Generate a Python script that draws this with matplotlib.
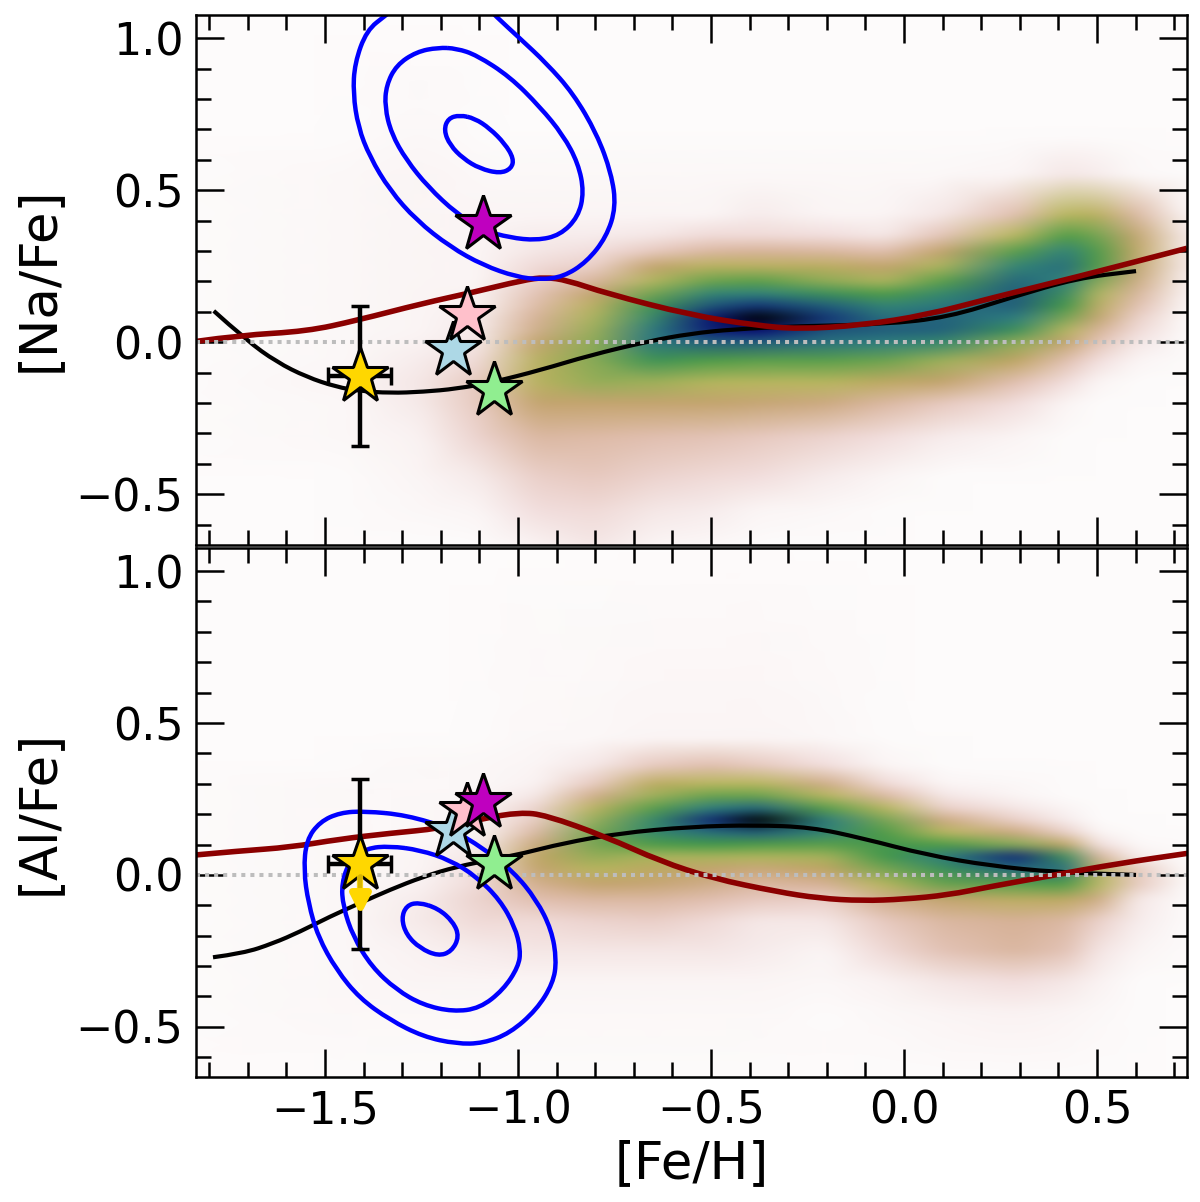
"""Two-panel [Na/Fe] and [Al/Fe] vs [Fe/H] density maps with contours, tracks and stars."""
import numpy as np
import matplotlib
matplotlib.use("Agg")
import matplotlib.pyplot as plt
from matplotlib.markers import MarkerStyle
from matplotlib.patches import PathPatch
from matplotlib.path import Path
from matplotlib.ticker import MultipleLocator

XLIM = (-1.834, 0.733)
YLIM = (-0.665, 1.076)

# density maps on a coarse grid (one list per column, y ascending)
grid_feh = [-1.835, -1.45, -1.25, -1.1, -0.95, -0.8, -0.65, -0.5, -0.38, -0.2, -0.05, 0.1, 0.29, 0.42, 0.5, 0.6, 0.733]
grid_na = [-0.665, -0.55, -0.44, -0.31, -0.2, -0.13, -0.06, 0, 0.04, 0.08, 0.12, 0.16, 0.2, 0.25, 0.3, 0.35, 0.42, 0.55, 0.68, 1.076]
grid_al = [-0.665, -0.45, -0.35, -0.25, -0.15, -0.08, -0.03, 0.02, 0.06, 0.1, 0.14, 0.18, 0.22, 0.26, 0.3, 0.36, 0.45, 1.076]

density_na = [
    [0, 0, 0, 0, 0, 0, 0, 0, 0, 0, 0, 0, 0, 0, 0, 0, 0, 0, 0, 0],
    [0, 0, .003, .005, .006, .008, .006, .005, .004, .004, .004, .004, .004, .004, .004, .004, .004, .004, .002, 0],
    [0, .004, .008, .012, .025, .03, .02, .012, .01, .01, .008, .008, .008, .008, .008, .008, .008, .008, .004, 0],
    [0, .01, .025, .06, .08, .08, .05, .03, .025, .02, .015, .012, .01, .008, .008, .008, .008, .004, .002, 0],
    [.015, .04, .07, .12, .2, .28, .27, .2, .16, .14, .11, .09, .07, .05, .03, .02, .01, .004, 0, 0],
    [.03, .05, .08, .11, .2, .38, .42, .4, .37, .33, .27, .2, .13, .07, .04, .02, .01, .004, 0, 0],
    [.01, .03, .06, .1, .2, .36, .58, .74, .73, .66, .58, .46, .32, .2, .08, .03, .01, .004, 0, 0],
    [.005, .02, .05, .09, .2, .31, .52, .8, .92, .93, .82, .68, .48, .28, .12, .05, .01, .004, 0, 0],
    [0, .01, .04, .08, .19, .3, .5, .8, .95, 1.0, .88, .7, .5, .27, .13, .05, .02, .004, 0, 0],
    [0, .005, .02, .06, .17, .3, .5, .75, .82, .88, .8, .6, .4, .26, .12, .04, .01, .004, 0, 0],
    [0, 0, .01, .04, .12, .24, .47, .72, .8, .76, .68, .52, .33, .2, .1, .03, .01, .004, 0, 0],
    [0, 0, 0, .02, .08, .2, .36, .66, .79, .79, .74, .66, .5, .33, .2, .09, .03, .004, 0, 0],
    [0, 0, 0, .01, .04, .1, .22, .4, .6, .72, .8, .8, .78, .68, .5, .3, .1, .01, 0, 0],
    [0, 0, 0, 0, .01, .04, .1, .2, .3, .44, .54, .62, .7, .76, .7, .52, .3, .03, 0, 0],
    [0, 0, 0, 0, 0, .01, .04, .09, .14, .2, .25, .32, .42, .53, .52, .46, .27, .02, 0, 0],
    [0, 0, 0, 0, 0, 0, .01, .03, .05, .07, .1, .13, .17, .2, .22, .2, .12, .005, 0, 0],
    [0, 0, 0, 0, 0, 0, 0, 0, 0, 0, .005, .01, .015, .02, .02, .02, .01, 0, 0, 0],
]
density_al = [
    [0, 0, 0, 0, 0, 0, 0, 0, 0, 0, 0, 0, 0, 0, 0, 0, 0, 0],
    [0, .004, .006, .006, .005, .005, .005, .005, .005, .005, .005, .005, .005, .004, .004, .003, .003, 0],
    [0, .005, .008, .012, .025, .02, .015, .01, .008, .006, .005, .005, .005, .005, .005, .004, .003, 0],
    [0, .005, .01, .02, .05, .06, .05, .04, .03, .02, .01, .01, .008, .005, .005, .004, .003, 0],
    [0, .005, .01, .03, .05, .1, .15, .2, .22, .18, .12, .08, .06, .03, .015, .01, .005, 0],
    [0, .005, .01, .03, .06, .12, .2, .3, .38, .45, .45, .38, .28, .16, .08, .03, .005, 0],
    [0, .005, .01, .03, .07, .12, .19, .24, .33, .52, .66, .65, .5, .36, .25, .08, .01, 0],
    [0, .005, .01, .03, .05, .1, .16, .2, .33, .54, .76, .9, .72, .48, .3, .1, .01, 0],
    [0, .005, .01, .02, .03, .08, .12, .18, .32, .52, .8, 1.0, .78, .48, .3, .08, .01, 0],
    [0, .003, .005, .01, .03, .07, .14, .22, .34, .5, .68, .72, .5, .3, .16, .04, .005, 0],
    [0, .005, .015, .05, .08, .16, .3, .45, .55, .56, .52, .45, .3, .12, .05, .01, .003, 0],
    [0, .01, .03, .09, .12, .2, .48, .6, .72, .52, .3, .17, .07, .03, .01, .003, 0, 0],
    [0, .015, .04, .12, .14, .26, .5, .78, .9, .42, .17, .07, .03, .01, .005, 0, 0, 0],
    [0, .008, .03, .09, .12, .24, .52, .75, .6, .22, .07, .02, .01, 0, 0, 0, 0, 0],
    [0, .005, .015, .035, .07, .17, .3, .28, .14, .04, .01, 0, 0, 0, 0, 0, 0, 0],
    [0, 0, 0, .01, .02, .03, .08, .08, .02, .005, 0, 0, 0, 0, 0, 0, 0, 0],
    [0, 0, 0, 0, 0, 0, 0, 0, 0, 0, 0, 0, 0, 0, 0, 0, 0, 0],
]

# black and dark red tracks
black_na_x = [-1.788, -1.703, -1.625, -1.548, -1.470, -1.410, -1.332, -1.246, -1.159, -1.064, -0.943, -0.814, -0.663, -0.555, -0.44, -0.275, -0.052, 0.114, 0.28, 0.446, 0.601]
black_na_y = [0.103, 0.006, -0.065, -0.114, -0.147, -0.160, -0.167, -0.163, -0.153, -0.131, -0.092, -0.043, 0.003, 0.028, 0.043, 0.053, 0.059, 0.082, 0.148, 0.21, 0.234]
red_na_x = [-1.832, -1.72, -1.547, -1.417, -1.246, -1.117, -0.987, -0.93, -0.873, -0.772, -0.552, -0.386, -0.275, -0.109, 0.057, 0.225, 0.446, 0.733]
red_na_y = [0.003, 0.023, 0.036, 0.072, 0.128, 0.164, 0.204, 0.214, 0.204, 0.161, 0.089, 0.056, 0.043, 0.056, 0.089, 0.145, 0.214, 0.309]
black_al_x = [-1.790, -1.712, -1.634, -1.565, -1.487, -1.410, -1.332, -1.246, -1.159, -1.073, -0.986, -0.884, -0.740, -0.551, -0.385, -0.241, -0.108, 0.058, 0.225, 0.391, 0.601]
black_al_y = [-0.271, -0.258, -0.225, -0.187, -0.137, -0.093, -0.049, -0.006, 0.027, 0.049, 0.071, 0.104, 0.137, 0.159, 0.164, 0.157, 0.121, 0.066, 0.030, 0.009, 0.0]
red_al_x = [-1.833, -1.72, -1.591, -1.461, -1.332, -1.202, -1.09, -0.995, -0.928, -0.773, -0.629, -0.496, -0.330, -0.219, -0.108, 0.0, 0.114, 0.225, 0.391, 0.557, 0.734]
red_al_y = [0.066, 0.079, 0.091, 0.118, 0.137, 0.153, 0.186, 0.206, 0.197, 0.126, 0.044, -0.011, -0.055, -0.077, -0.085, -0.08, -0.066, -0.038, 0.0, 0.038, 0.071]

# blue contours, outer to inner
blue_na = [
    ([-1.341, -1.392, -1.423, -1.427, -1.414, -1.384, -1.332, -1.263, -1.176, -1.090, -1.004, -0.943, -0.883, -0.822, -0.771, -0.746, -0.758, -0.796, -0.857, -0.926, -0.995, -1.056, -1.107, -1.176, -1.263],
     [1.076, 1.026, 0.917, 0.818, 0.708, 0.610, 0.500, 0.401, 0.314, 0.253, 0.215, 0.206, 0.215, 0.264, 0.346, 0.445, 0.555, 0.686, 0.818, 0.917, 0.999, 1.070, 1.136, 1.191, 1.158]),
    ([-1.207, -1.263, -1.315, -1.341, -1.345, -1.328, -1.289, -1.233, -1.159, -1.090, -1.021, -0.952, -0.891, -0.844, -0.829, -0.844, -0.883, -0.943, -1.021, -1.107, -1.159],
     [0.969, 0.955, 0.911, 0.845, 0.774, 0.686, 0.599, 0.511, 0.423, 0.368, 0.344, 0.335, 0.352, 0.412, 0.494, 0.588, 0.681, 0.774, 0.873, 0.944, 0.966]),
    ([-1.151, -1.181, -1.192, -1.176, -1.142, -1.099, -1.047, -1.017, -1.011, -1.034, -1.073, -1.112],
     [0.747, 0.736, 0.697, 0.648, 0.604, 0.571, 0.555, 0.571, 0.604, 0.653, 0.703, 0.736]),
]
blue_al = [
    ([-1.397, -1.461, -1.513, -1.548, -1.555, -1.543, -1.518, -1.470, -1.410, -1.332, -1.246, -1.159, -1.090, -1.021, -0.952, -0.909, -0.900, -0.913, -0.952, -1.012, -1.090, -1.176, -1.289],
     [0.210, 0.205, 0.175, 0.115, 0.016, -0.093, -0.203, -0.313, -0.406, -0.477, -0.532, -0.556, -0.554, -0.521, -0.444, -0.356, -0.280, -0.181, -0.082, 0.011, 0.088, 0.153, 0.197]),
    ([-1.332, -1.392, -1.435, -1.457, -1.453, -1.427, -1.379, -1.315, -1.246, -1.168, -1.099, -1.038, -0.999, -0.993, -1.008, -1.047, -1.107, -1.176, -1.254],
     [0.095, 0.088, 0.049, -0.027, -0.104, -0.203, -0.302, -0.378, -0.428, -0.450, -0.439, -0.378, -0.302, -0.247, -0.170, -0.082, -0.006, 0.049, 0.082]),
    ([-1.258, -1.289, -1.302, -1.289, -1.254, -1.207, -1.172, -1.152, -1.168, -1.207],
     [-0.090, -0.101, -0.143, -0.197, -0.241, -0.267, -0.252, -0.203, -0.154, -0.110]),
]

# stars, drawn in this order
star_colors = ["lightblue", "pink", "#bf00bf", "lightgreen", "gold"]
star_feh = [-1.168, -1.133, -1.09, -1.062, -1.41]
star_na = [-0.025, 0.089, 0.390, -0.157, -0.112]
star_al = [0.146, 0.212, 0.239, 0.036, 0.036]

# error bars of the gold star
err_feh = 0.081
err_na = 0.23
err_al = 0.28
al_limit = -0.08


def soften(img, dpi):
    # soft edge for the density mesh, wider along x than along y
    out = img.copy()
    for axis, sigma in ((1, 10.0), (0, 3.0)):
        r = np.arange(-int(3 * sigma), int(3 * sigma) + 1)
        kernel = np.exp(-0.5 * (r / sigma) ** 2)
        kernel /= kernel.sum()
        pad = [(len(r) // 2, len(r) // 2) if i == axis else (0, 0) for i in range(3)]
        padded = np.pad(out, pad, mode="edge")
        out = np.apply_along_axis(lambda v: np.convolve(v, kernel, mode="valid"), axis, padded)
    return out, 0, 0


def smooth_curve(ax, xs, ys, closed=False, **kw):
    # read points act as quadratic control points, so the path comes out without kinks
    pts = np.column_stack([xs, ys])
    mids = (pts + np.roll(pts, -1, axis=0)) / 2
    if closed:
        verts = [mids[-1]]
        codes = [Path.MOVETO]
        for p, m in zip(pts, mids):
            verts += [p, m]
            codes += [Path.CURVE3, Path.CURVE3]
    else:
        verts = [pts[0]]
        codes = [Path.MOVETO]
        for p, m in zip(pts[1:-1], mids[1:-1]):
            verts += [p, m]
            codes += [Path.CURVE3, Path.CURVE3]
        verts.append(pts[-1])
        codes.append(Path.LINETO)
    ax.add_patch(PathPatch(Path(verts, codes), fill=False, capstyle="butt", **kw))


def panel(ax, grid_y, density, black, red, contours, star_y, err_y, ylabel):
    mesh = ax.pcolormesh(grid_feh, grid_y, np.array(density).T, shading="gouraud",
                         cmap="gist_earth_r", vmin=0, vmax=1, zorder=1)
    mesh.set_agg_filter(soften)
    smooth_curve(ax, black[0], black[1], edgecolor="black", linewidth=3.0, zorder=3)
    smooth_curve(ax, red[0], red[1], edgecolor="darkred", linewidth=4.0, zorder=3.2)
    ax.axhline(0, color="#bdbdbd", linestyle=(0, (1, 1.25)), linewidth=2.9, zorder=3.4)
    for cx, cy in contours:
        smooth_curve(ax, cx, cy, closed=True, edgecolor="blue", linewidth=3.2, zorder=3.6)

    ax.errorbar(star_feh[-1], star_y[-1], xerr=err_feh, yerr=err_y, color="black",
                elinewidth=3.2, capsize=6.3, capthick=2.5, zorder=4)
    for c, x, y in zip(star_colors, star_feh, star_y):
        ax.plot(x, y, marker="*", markersize=42, markerfacecolor=c,
                markeredgecolor="black", markeredgewidth=2.2, linestyle="none", zorder=5)

    ax.set_xlim(XLIM)
    ax.set_ylim(YLIM)
    ax.set_ylabel(ylabel, fontsize=37)
    ax.yaxis.set_label_coords(-0.134, 0.5)
    ax.xaxis.set_major_locator(MultipleLocator(0.5))
    ax.xaxis.set_minor_locator(MultipleLocator(0.1))
    ax.yaxis.set_major_locator(MultipleLocator(0.5))
    ax.yaxis.set_minor_locator(MultipleLocator(0.1))
    ax.tick_params(which="both", direction="in", top=True, right=True, labelsize=32, pad=9)
    ax.tick_params(which="major", length=20.5, width=1.8)
    ax.tick_params(which="minor", length=10.5, width=1.8)
    for s in ax.spines.values():
        s.set_linewidth(1.8)
        s.set_zorder(6)


fig = plt.figure(figsize=(12, 12.02), dpi=100)
ax_na = fig.add_axes([196 / 1200, 1 - 544.5 / 1202, 991 / 1200, 529.5 / 1202])
ax_al = fig.add_axes([196 / 1200, 1 - 1077 / 1202, 991 / 1200, 529 / 1202])

panel(ax_na, grid_na, density_na, (black_na_x, black_na_y), (red_na_x, red_na_y),
      blue_na, star_na, err_na, "[Na/Fe]")
panel(ax_al, grid_al, density_al, (black_al_x, black_al_y), (red_al_x, red_al_y),
      blue_al, star_al, err_al, "[Al/Fe]")
ax_na.tick_params(labelbottom=False)
ax_al.set_xlabel("[Fe/H]", fontsize=37, va="top")
ax_al.xaxis.set_label_coords(0.5, -0.117)

# gold upper limit on the [Al/Fe] star
ax_al.plot([star_feh[-1], star_feh[-1]], [star_al[-1], al_limit], color="gold", linewidth=4.5,
           alpha=0.85, solid_capstyle="butt", zorder=5.5)
ax_al.plot(star_feh[-1], al_limit, marker=MarkerStyle("v", joinstyle="round"), markersize=11,
           color="gold", markeredgewidth=5, zorder=5.5)

fig.savefig("out.png", dpi=100)
